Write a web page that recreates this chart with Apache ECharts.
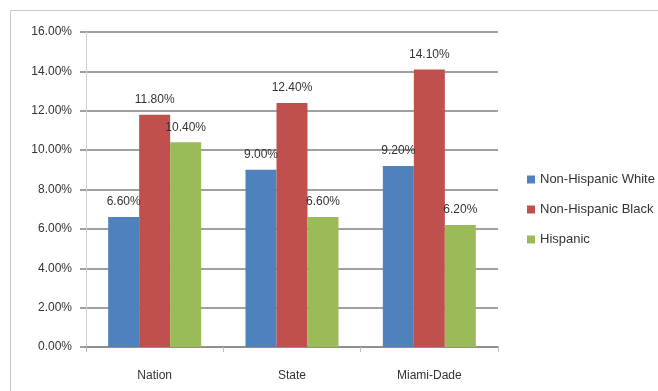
<!DOCTYPE html>
<html>
<head>
<meta charset="utf-8">
<script src="https://cdn.jsdelivr.net/npm/echarts@6/dist/echarts.min.js"></script>
<style>
  html, body { margin: 0; padding: 0; background: #fff; }
  #chart { width: 658px; height: 391px; }
</style>
</head>
<body>
<div id="chart"></div>
<script>
const categories = ['Nation', 'State', 'Miami-Dade']
const seriesNames = ['Non-Hispanic White', 'Non-Hispanic Black', 'Hispanic']
const whiteValues = [6.6, 9.0, 9.2]
const blackValues = [11.8, 12.4, 14.1]
const hispanicValues = [10.4, 6.6, 6.2]
const colors = ['#4f81bd', '#c0504d', '#9bbb59']

const font = 'Liberation Sans, Arial, sans-serif'
const chart = echarts.init(document.getElementById('chart'))

function makeSeries(name, data, color) {
  return {
    name: name,
    type: 'bar',
    barWidth: 31,
    barGap: '0%',
    itemStyle: { color: color },
    label: {
      show: true,
      position: 'top',
      distance: 9,
      color: '#333',
      fontFamily: font,
      fontSize: 12,
      formatter: (p) => p.value.toFixed(2) + '%'
    },
    data: data
  }
}

chart.setOption({
  animation: false,
  graphic: [
    {
      type: 'rect',
      left: 8,
      top: 8,
      shape: { width: 700, height: 420 },
      style: { fill: 'none', stroke: '#c8c8c8', lineWidth: 1 }
    }
  ],
  legend: {
    orient: 'vertical',
    left: 522,
    top: 168,
    itemWidth: 8,
    itemHeight: 8,
    itemGap: 17,
    icon: 'rect',
    textStyle: { color: '#333', fontFamily: font, fontSize: 13 },
    data: seriesNames
  },
  grid: {
    left: 86,
    right: 160,
    top: 32,
    bottom: 44
  },
  xAxis: {
    type: 'category',
    data: categories,
    axisLine: { lineStyle: { color: '#8a8a8a', width: 1.5 } },
    axisTick: { show: true, length: 5, lineStyle: { color: '#bbb' } },
    axisLabel: { color: '#333', fontFamily: font, fontSize: 12, margin: 23 }
  },
  yAxis: {
    type: 'value',
    min: 0,
    max: 16,
    interval: 2,
    axisLine: { show: true, lineStyle: { color: '#d0d0d0', width: 1 } },
    axisTick: { show: true, length: 6, lineStyle: { color: '#808080', width: 1.5 } },
    splitLine: { lineStyle: { color: '#808080', width: 1.5 } },
    axisLabel: {
      color: '#333',
      fontFamily: font,
      fontSize: 12,
      margin: 14,
      formatter: (v) => v.toFixed(2) + '%'
    }
  },
  series: [
    makeSeries(seriesNames[0], whiteValues, colors[0]),
    makeSeries(seriesNames[1], blackValues, colors[1]),
    makeSeries(seriesNames[2], hispanicValues, colors[2])
  ]
})
</script>
</body>
</html>
